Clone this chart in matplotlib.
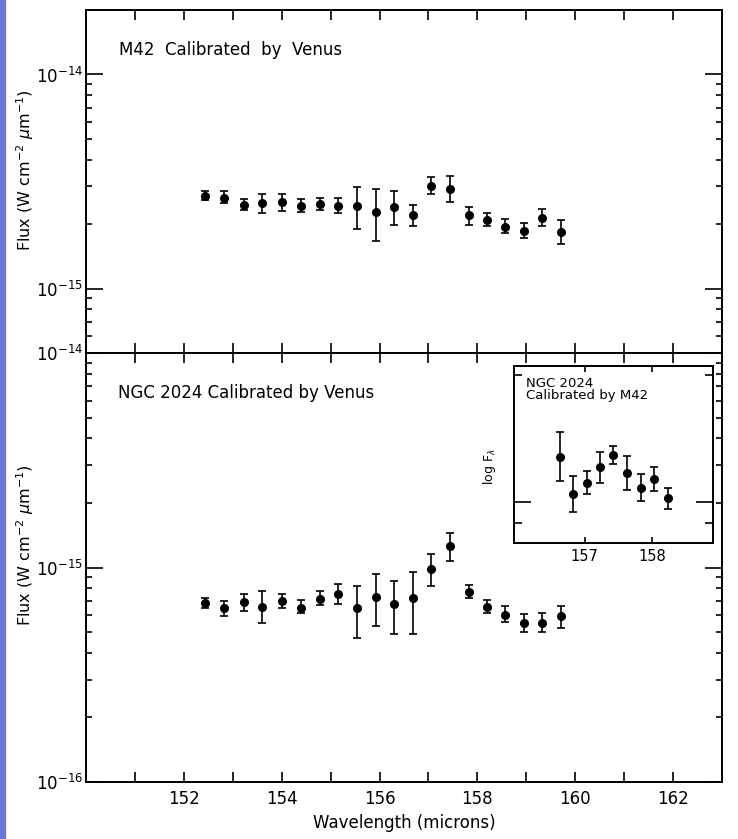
import numpy as np
import matplotlib
matplotlib.use('Agg')
import matplotlib.pyplot as plt
import matplotlib.patches as patches
from matplotlib.ticker import NullFormatter, FixedLocator, LogFormatterSciNotation

# wavelengths (microns) shared by both main panels
wavelength = [152.43, 152.82, 153.22, 153.59, 154.00, 154.40, 154.79, 155.15, 155.54, 155.93,
              156.30, 156.68, 157.06, 157.44, 157.82, 158.20, 158.57, 158.95, 159.33, 159.71]

# M42 calibrated by Venus (W cm^-2 um^-1)
m42_flux = [2.71e-15, 2.66e-15, 2.46e-15, 2.51e-15, 2.54e-15, 2.44e-15, 2.49e-15, 2.42e-15, 2.42e-15, 2.29e-15,
            2.40e-15, 2.20e-15, 3.00e-15, 2.91e-15, 2.20e-15, 2.08e-15, 1.94e-15, 1.85e-15, 2.14e-15, 1.84e-15]
m42_hi = [2.84e-15, 2.87e-15, 2.63e-15, 2.77e-15, 2.77e-15, 2.63e-15, 2.65e-15, 2.65e-15, 2.98e-15, 2.92e-15,
          2.84e-15, 2.46e-15, 3.31e-15, 3.37e-15, 2.40e-15, 2.25e-15, 2.11e-15, 2.03e-15, 2.35e-15, 2.08e-15]
m42_lo = [2.58e-15, 2.51e-15, 2.32e-15, 2.25e-15, 2.31e-15, 2.28e-15, 2.32e-15, 2.25e-15, 1.90e-15, 1.67e-15,
          1.99e-15, 1.97e-15, 2.77e-15, 2.54e-15, 1.99e-15, 1.95e-15, 1.82e-15, 1.72e-15, 1.95e-15, 1.62e-15]

# NGC 2024 calibrated by Venus
ngc_flux = [6.84e-16, 6.44e-16, 6.89e-16, 6.55e-16, 7.01e-16, 6.48e-16, 7.16e-16, 7.52e-16, 6.44e-16, 7.32e-16,
            6.79e-16, 7.19e-16, 9.86e-16, 1.264e-15, 7.68e-16, 6.53e-16, 5.99e-16, 5.49e-16, 5.49e-16, 5.91e-16]
ngc_hi = [7.21e-16, 6.96e-16, 7.55e-16, 7.74e-16, 7.55e-16, 7.04e-16, 7.74e-16, 8.40e-16, 8.17e-16, 9.35e-16,
          8.68e-16, 9.51e-16, 1.152e-15, 1.452e-15, 8.32e-16, 7.04e-16, 6.58e-16, 6.10e-16, 6.14e-16, 6.58e-16]
ngc_lo = [6.48e-16, 5.93e-16, 6.30e-16, 5.49e-16, 6.44e-16, 6.14e-16, 6.67e-16, 6.79e-16, 4.71e-16, 5.33e-16,
          4.88e-16, 4.91e-16, 8.23e-16, 1.077e-15, 7.21e-16, 6.14e-16, 5.56e-16, 5.00e-16, 5.00e-16, 5.24e-16]

# inset: NGC 2024 calibrated by M42 (relative log F)
inset_wavelength = [156.63, 156.83, 157.03, 157.22, 157.42, 157.62, 157.83, 158.02, 158.23]
inset_logf = [0.211, 0.037, 0.090, 0.161, 0.219, 0.136, 0.067, 0.107, 0.017]
inset_err = [0.113, 0.084, 0.055, 0.071, 0.043, 0.080, 0.062, 0.055, 0.048]

x_labels = [152, 154, 156, 158, 160, 162]
x_minor = [151, 152, 153, 154, 155, 156, 157, 158, 159, 160, 161, 162]

W, H = 738, 839
fig = plt.figure(figsize=(W / 100, H / 100), dpi=100)

# blue strip down the left edge of the scan
fig.add_artist(patches.Rectangle((0, 0), 5 / W, 1, transform=fig.transFigure,
                                 color='#6878d0', zorder=0))


def fx(px):
    return px / W


def fy(px):
    return 1 - px / H


left, right = fx(86), fx(722)
ax_top = fig.add_axes([left, fy(353), right - left, fy(10) - fy(353)])
ax_bot = fig.add_axes([left, fy(782), right - left, fy(353) - fy(782)])


def style_main(ax, ylim):
    ax.set_yscale('log')
    ax.set_ylim(*ylim)
    ax.set_xlim(150, 163)
    ax.xaxis.set_major_locator(FixedLocator(x_labels))
    ax.xaxis.set_minor_locator(FixedLocator(x_minor))
    lo, hi = np.log10(ylim)
    decades = [10.0 ** k for k in range(int(np.ceil(lo - 1e-9)), int(np.floor(hi + 1e-9)) + 1)]
    minors = [m * 10.0 ** k for k in range(int(np.floor(lo)), int(np.ceil(hi)))
              for m in range(2, 10) if ylim[0] <= m * 10.0 ** k <= ylim[1]]
    ax.yaxis.set_major_locator(FixedLocator(decades))
    ax.yaxis.set_major_formatter(LogFormatterSciNotation())
    ax.yaxis.set_minor_locator(FixedLocator(minors))
    ax.yaxis.set_minor_formatter(NullFormatter())
    ax.tick_params(axis='y', which='major', direction='in', length=12, width=1.2,
                   left=True, right=True, labelsize=12, pad=2)
    ax.tick_params(axis='y', which='minor', direction='in', length=4.5, width=1.2,
                   left=True, right=True)
    ax.tick_params(axis='x', which='both', direction='in', length=7, width=1.2,
                   top=True, bottom=True, labelsize=12, pad=6)
    for s in ax.spines.values():
        s.set_linewidth(1.4)


def draw(ax, x, y, lo, hi):
    y = np.array(y)
    yerr = [y - np.array(lo), np.array(hi) - y]
    ax.errorbar(x, y, yerr=yerr, fmt='o', color='black', ms=5.5, capsize=3,
                elinewidth=1.2, capthick=1.2)


style_main(ax_top, (5e-16, 2e-14))
ax_top.tick_params(axis='x', labelbottom=False)
draw(ax_top, wavelength, m42_flux, m42_lo, m42_hi)
ax_top.text(0.052, 0.883, 'M42  Calibrated  by  Venus', transform=ax_top.transAxes,
            fontsize=12, va='center', ha='left')
ax_top.set_ylabel(r'Flux (W cm$^{-2}$ $\mu$m$^{-1}$)', fontsize=11.5, va='center')
ax_top.yaxis.set_label_coords(-0.096, 0.534)

style_main(ax_bot, (1e-16, 1e-14))
draw(ax_bot, wavelength, ngc_flux, ngc_lo, ngc_hi)
ax_bot.text(0.050, 0.907, 'NGC 2024 Calibrated by Venus', transform=ax_bot.transAxes,
            fontsize=12, va='center', ha='left')
ax_bot.set_ylabel(r'Flux (W cm$^{-2}$ $\mu$m$^{-1}$)', fontsize=11.5, va='center')
ax_bot.yaxis.set_label_coords(-0.096, 0.552)
ax_bot.set_xlabel('Wavelength (microns)', fontsize=12, labelpad=4)

# inset
ax_in = fig.add_axes([fx(514), fy(543), fx(713) - fx(514), fy(366) - fy(543)])
ax_in.set_xlim(155.95, 158.9)
ax_in.set_ylim(-0.191, 0.633)
ax_in.xaxis.set_major_locator(FixedLocator([157, 158]))
ax_in.yaxis.set_major_locator(FixedLocator([0.0]))
ax_in.yaxis.set_minor_locator(FixedLocator([-0.1, 0.59]))
ax_in.tick_params(axis='x', direction='in', length=4, width=1.2, top=True, bottom=True,
                  labelsize=10.5, pad=4)
ax_in.tick_params(axis='y', which='major', direction='in', length=12, width=1.2,
                  left=True, right=True, labelleft=False)
ax_in.tick_params(axis='y', which='minor', direction='in', length=6, width=1.2,
                  left=True, right=True)
for s in ax_in.spines.values():
    s.set_linewidth(1.4)
ax_in.errorbar(inset_wavelength, inset_logf, yerr=inset_err, fmt='o', color='black',
               ms=5.5, capsize=3, elinewidth=1.2, capthick=1.2)
ax_in.text(0.06, 0.94, 'NGC 2024\nCalibrated by M42', transform=ax_in.transAxes,
           fontsize=9.5, va='top', ha='left', linespacing=0.95)
ax_in.set_ylabel(r'log F$_\lambda$', fontsize=9)
ax_in.yaxis.set_label_coords(-0.08, 0.43)

fig.savefig('out.png', dpi=100)
